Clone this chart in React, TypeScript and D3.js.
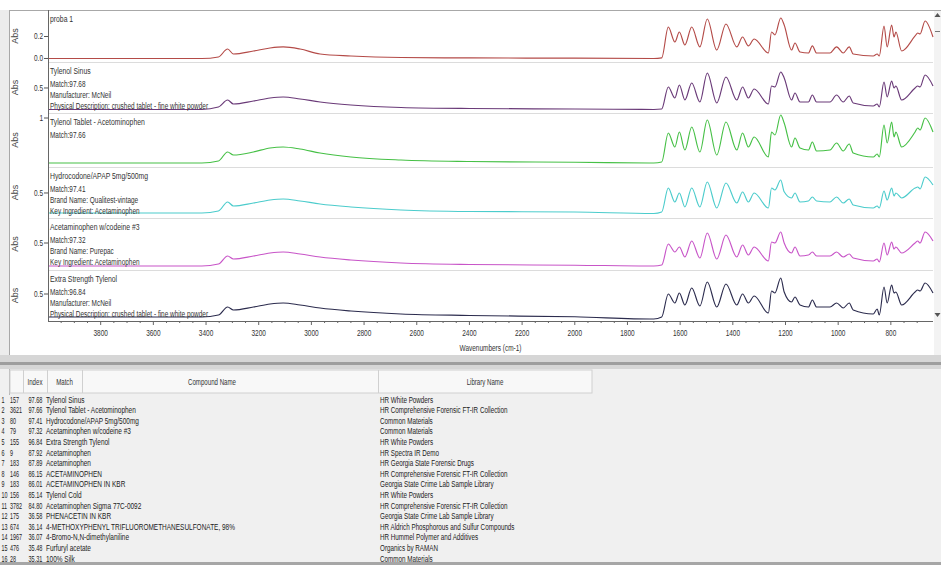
import React from "react";
import * as d3 from "d3";

// wavenumber grid (cm-1) shared by all six traces
const wavenumbers = [
  4000, 3600, 3416, 3353, 3318, 3296, 3220, 3157, 3107, 3043,
  2967, 2850, 2660, 2400, 2000, 1700, 1670, 1645, 1620, 1603,
  1582, 1556, 1525, 1497, 1461, 1426, 1385, 1363, 1341, 1319,
  1265, 1253, 1240, 1218, 1205, 1177, 1164, 1145, 1113, 1098,
  1082, 1031, 1006, 981, 958, 943, 867, 852, 844, 826,
  814, 797, 788, 781, 759, 708, 698, 689, 670, 640,
];

const probaAbs = [
  0, 0, 0, 0.014, 0.086, 0.041, 0.068, 0.095, 0.105, 0.086,
  0.041, 0.023, 0.009, 0.005, 0.003, 0, 0.005, 0.286, 0.15, 0.241,
  0.123, 0.286, 0.105, 0.359, 0.077, 0.314, 0.105, 0.195, 0.114, 0.177,
  0.05, 0.241, 0.214, 0.368, 0.305, 0.077, 0.141, 0.059, 0.05, 0.114,
  0.05, 0.05, 0.105, 0.05, 0.105, 0.041, 0.023, 0.041, 0.023, 0.295,
  0.105, 0.305, 0.195, 0.241, 0.068, 0.205, 0.232, 0.223, 0.341, 0.195,
];

const tylenolSinusAbs = [
  0.142, 0.142, 0.142, 0.183, 0.3, 0.233, 0.283, 0.333, 0.35, 0.317,
  0.267, 0.217, 0.175, 0.158, 0.15, 0.142, 0.15, 0.517, 0.333, 0.55,
  0.3, 0.583, 0.267, 0.75, 0.25, 0.683, 0.3, 0.517, 0.333, 0.483,
  0.233, 0.533, 0.517, 0.767, 0.667, 0.3, 0.417, 0.267, 0.267, 0.383,
  0.267, 0.267, 0.383, 0.267, 0.367, 0.25, 0.2, 0.233, 0.183, 0.6,
  0.35, 0.617, 0.5, 0.533, 0.3, 0.5, 0.533, 0.517, 0.717, 0.533,
];

const tylenolTabletAbs = [
  0.182, 0.182, 0.182, 0.218, 0.382, 0.327, 0.382, 0.455, 0.473, 0.436,
  0.364, 0.291, 0.236, 0.209, 0.195, 0.182, 0.2, 0.727, 0.473, 0.745,
  0.418, 0.836, 0.382, 0.964, 0.327, 0.927, 0.418, 0.727, 0.473, 0.655,
  0.291, 0.745, 0.691, 1.055, 0.909, 0.473, 0.636, 0.455, 0.418, 0.564,
  0.4, 0.418, 0.545, 0.4, 0.527, 0.364, 0.291, 0.345, 0.291, 0.873,
  0.545, 0.927, 0.655, 0.745, 0.473, 0.745, 0.818, 0.782, 1.0, 0.745,
];

const hydrocodoneAbs = [
  0.167, 0.167, 0.167, 0.2, 0.35, 0.283, 0.333, 0.383, 0.4, 0.367,
  0.317, 0.267, 0.217, 0.192, 0.183, 0.158, 0.183, 0.583, 0.35, 0.5,
  0.267, 0.583, 0.267, 0.683, 0.25, 0.667, 0.333, 0.517, 0.35, 0.5,
  0.25, 0.583, 0.55, 0.717, 0.52, 0.417, 0.5, 0.35, 0.367, 0.433,
  0.367, 0.35, 0.433, 0.333, 0.4, 0.3, 0.25, 0.283, 0.25, 0.533,
  0.383, 0.583, 0.45, 0.5, 0.417, 0.583, 0.6, 0.567, 0.767, 0.633,
];

const codeineAbs = [
  0.117, 0.117, 0.117, 0.15, 0.283, 0.233, 0.283, 0.333, 0.35, 0.317,
  0.267, 0.217, 0.167, 0.142, 0.13, 0.117, 0.133, 0.483, 0.35, 0.433,
  0.267, 0.533, 0.25, 0.667, 0.233, 0.633, 0.267, 0.467, 0.3, 0.433,
  0.2, 0.517, 0.5, 0.683, 0.5, 0.333, 0.433, 0.283, 0.3, 0.35,
  0.283, 0.283, 0.35, 0.267, 0.317, 0.25, 0.2, 0.233, 0.183, 0.5,
  0.3, 0.517, 0.4, 0.433, 0.333, 0.5, 0.533, 0.5, 0.683, 0.533,
];

const extraStrengthAbs = [
  0.117, 0.117, 0.117, 0.15, 0.283, 0.233, 0.283, 0.333, 0.35, 0.317,
  0.267, 0.217, 0.167, 0.142, 0.12, 0.083, 0.117, 0.5, 0.35, 0.517,
  0.317, 0.6, 0.3, 0.7, 0.283, 0.667, 0.317, 0.5, 0.35, 0.467,
  0.183, 0.55, 0.517, 0.767, 0.533, 0.367, 0.45, 0.317, 0.283, 0.4,
  0.283, 0.283, 0.35, 0.267, 0.35, 0.233, 0.167, 0.25, 0.15, 0.617,
  0.35, 0.65, 0.517, 0.533, 0.317, 0.533, 0.567, 0.55, 0.683, 0.517,
];

const spectra = [probaAbs, tylenolSinusAbs, tylenolTabletAbs, hydrocodoneAbs, codeineAbs, extraStrengthAbs];

const panelTitles = [
  "proba 1",
  "Tylenol Sinus",
  "Tylenol Tablet - Acetominophen",
  "Hydrocodone/APAP 5mg/500mg",
  "Acetaminophen w/codeine #3",
  "Extra Strength Tylenol",
];

const panelNotes = [
  [],
  ["Match:97.68", "Manufacturer:  McNeil", "Physical Description:   crushed tablet - fine white powder"],
  ["Match:97.66"],
  ["Match:97.41", "Brand Name:  Qualitest-vintage", "Key Ingredient:  Acetaminophen"],
  ["Match:97.32", "Brand Name:  Purepac", "Key Ingredient:  Acetaminophen"],
  ["Match:96.84", "Manufacturer:  McNeil", "Physical Description:   crushed tablet - fine white powder"],
];

const yTickValues = [[0, 0.2], [0.5], [1], [0.5], [0.5], [0.5]];
const yDomains = [[-0.032, 0.441], [0.083, 0.933], [0.109, 1.091], [0.083, 0.933], [0.05, 0.917], [0.05, 0.9]];
const xTickLabels = [3800, 3600, 3400, 3200, 3000, 2800, 2600, 2400, 2200, 2000, 1800, 1600, 1400, 1200, 1000, 800];

// hit list
const hitIndex = ["157", "3621", "80", "79", "155", "9", "183", "146", "183", "156", "3782", "175", "674", "1967", "476", "28"];
const hitMatch = [97.68, 97.66, 97.41, 97.32, 96.84, 87.92, 87.89, 86.15, 86.01, 85.14, 84.8, 36.58, 36.14, 36.07, 35.48, 35.31];
const hitCompound = [
  "Tylenol Sinus",
  "Tylenol Tablet - Acetominophen",
  "Hydrocodone/APAP 5mg/500mg",
  "Acetaminophen w/codeine #3",
  "Extra Strength Tylenol",
  "Acetaminophen",
  "Acetaminophen",
  "ACETAMINOPHEN",
  "ACETAMINOPHEN IN KBR",
  "Tylenol Cold",
  "Acetaminophen Sigma 77C-0092",
  "PHENACETIN IN KBR",
  "4-METHOXYPHENYL TRIFLUOROMETHANESULFONATE, 98%",
  "4-Bromo-N,N-dimethylaniline",
  "Furfuryl acetate",
  "100% Silk",
];
const hitLibrary = [
  "HR White Powders",
  "HR Comprehensive Forensic FT-IR Collection",
  "Common Materials",
  "Common Materials",
  "HR White Powders",
  "HR Spectra IR Demo",
  "HR Georgia State Forensic Drugs",
  "HR Comprehensive Forensic FT-IR Collection",
  "Georgia State Crime Lab Sample Library",
  "HR White Powders",
  "HR Comprehensive Forensic FT-IR Collection",
  "Georgia State Crime Lab Sample Library",
  "HR Aldrich Phosphorous and Sulfur Compounds",
  "HR Hummel Polymer and Additives",
  "Organics by RAMAN",
  "Common Materials",
];

const lineColors = ["#b44b48", "#6a3a78", "#46c046", "#4ccccc", "#c855c8", "#2c2c4e"];

const W = 941;
const H = 565;
const plotL = 48;
const plotR = 933;
const panelEdges = [10, 62, 113, 167, 218, 270, 321];
const FONT = "'Liberation Sans', Arial, sans-serif";

// squeezed text, the screenshot is narrow
const T = ({ x, y, size = 9, sx = 0.72, anchor = "start", fill = "#333", children }: any) => (
  <text
    transform={`translate(${x},${y}) scale(${sx},1)`}
    fontSize={size}
    textAnchor={anchor}
    fill={fill}
  >
    {children}
  </text>
);

export default function App() {
  const x = d3.scaleLinear().domain([4000, 640]).range([plotL, plotR]);
  const minorTicks = d3.range(3950, 650, -50);
  const fmtMatch = d3.format(".2f");

  const headerCols = [10, 23, 47, 82, 378, 592];
  const rowY = (i: number) => 402.5 + i * 10.6;

  return (
    <svg
      width={W}
      height={H}
      style={{ position: "fixed", left: 0, top: 0, display: "block", background: "#fff" }}
      fontFamily={FONT}
    >
      {/* window chrome of the plot pane */}
      <rect x={0} y={0} width={W} height={H} fill="#fff" />
      <rect x={0} y={10} width={9} height={345} fill="#ececec" />
      <rect x={9.5} y={10.5} width={W - 9} height={345} fill="#fff" stroke="#a8a8a8" />
      <rect x={934} y={11} width={7} height={344} fill="#f3f3f3" />
      <path d="M934.5,17 L937.5,13 L940.5,17 Z" fill="#555" />
      <path d="M935,31.5 L940,31.5" stroke="#777" />
      <path d="M934.5,313 L937.5,317 L940.5,313 Z" fill="#555" />

      {/* stacked spectrum panels */}
      {spectra.map((abs, p) => {
        const top = panelEdges[p];
        const bottom = panelEdges[p + 1];
        const y = d3.scaleLinear().domain(yDomains[p]).range([bottom, top]);
        const line = d3
          .line<number>()
          .x((_, i) => x(wavenumbers[i]))
          .y((d) => y(d))
          .curve(d3.curveMonotoneX);
        const fmt = p === 2 ? d3.format("d") : d3.format(".1f");
        return (
          <g key={p}>
            {p > 0 && (
              <line x1={plotL} x2={plotR} y1={top + 0.5} y2={top + 0.5} stroke="#dcdcdc" />
            )}
            <path d={line(abs) || ""} fill="none" stroke={lineColors[p]} strokeWidth={1.15} strokeLinejoin="round" />
            {yTickValues[p].map((t) => (
              <g key={t}>
                <line x1={plotL - 4} x2={plotL} y1={y(t)} y2={y(t)} stroke="#555" />
                <T x={plotL - 5} y={y(t) + 3} size={9} anchor="end">{fmt(t)}</T>
              </g>
            ))}
            <text
              transform={`translate(18,${(top + bottom) / 2}) rotate(-90)`}
              fontSize={9}
              textAnchor="middle"
              fill="#444"
            >
              Abs
            </text>
            <T x={plotL + 2} y={top + 11.5} size={9.5}>{panelTitles[p]}</T>
            {panelNotes[p].map((n, i) => (
              <T key={i} x={plotL + 2} y={top + 25 + i * 11} size={9.5} sx={0.68}>{n}</T>
            ))}
          </g>
        );
      })}

      {/* axes */}
      <line x1={plotL + 0.5} x2={plotL + 0.5} y1={10} y2={321} stroke="#666" />
      <line x1={plotL} x2={plotR} y1={321.5} y2={321.5} stroke="#666" />
      {minorTicks.map((t) => (
        <line key={t} x1={x(t)} x2={x(t)} y1={321} y2={t % 200 === 0 ? 325 : 323} stroke="#666" />
      ))}
      {xTickLabels.map((t) => (
        <T key={t} x={x(t)} y={336} size={9} anchor="middle">{t}</T>
      ))}
      <T x={(plotL + plotR) / 2} y={351} size={9} anchor="middle">Wavenumbers (cm-1)</T>

      {/* splitter */}
      <rect x={0} y={355} width={W} height={14} fill="#d6d6d6" />
      <rect x={0} y={362} width={W} height={3} fill="#9e9e9e" />

      {/* hit list pane */}
      <rect x={0} y={369} width={W} height={193} fill="#f0f0f0" />
      <rect x={0} y={562} width={W} height={3} fill="#a6a6a6" />
      <line x1={9.5} x2={9.5} y1={369} y2={395} stroke="#b5b5b5" />
      <rect x={headerCols[0]} y={370} width={headerCols[5] - headerCols[0]} height={23} fill="#f8f8f8" stroke="#d0d0d0" />
      {headerCols.slice(1, 5).map((c) => (
        <line key={c} x1={c + 0.5} x2={c + 0.5} y1={370} y2={393} stroke="#d0d0d0" />
      ))}
      <T x={35} y={385} size={8.5} anchor="middle">Index</T>
      <T x={64.5} y={385} size={8.5} anchor="middle">Match</T>
      <T x={212} y={385} size={8.5} anchor="middle">Compound Name</T>
      <T x={485} y={385} size={8.5} anchor="middle">Library Name</T>

      {hitIndex.map((idx, i) => (
        <g key={i}>
          <T x={1.5} y={rowY(i)} size={9} sx={0.6} fill="#222">{i + 1}</T>
          <T x={10} y={rowY(i)} size={9} sx={0.6} fill="#222">{idx}</T>
          <T x={28.5} y={rowY(i)} size={9} sx={0.62} fill="#222">{fmtMatch(hitMatch[i])}</T>
          <T x={46} y={rowY(i)} size={9} sx={0.72} fill="#222">{hitCompound[i]}</T>
          <T x={380} y={rowY(i)} size={9} sx={0.7} fill="#222">{hitLibrary[i]}</T>
        </g>
      ))}
    </svg>
  );
}
